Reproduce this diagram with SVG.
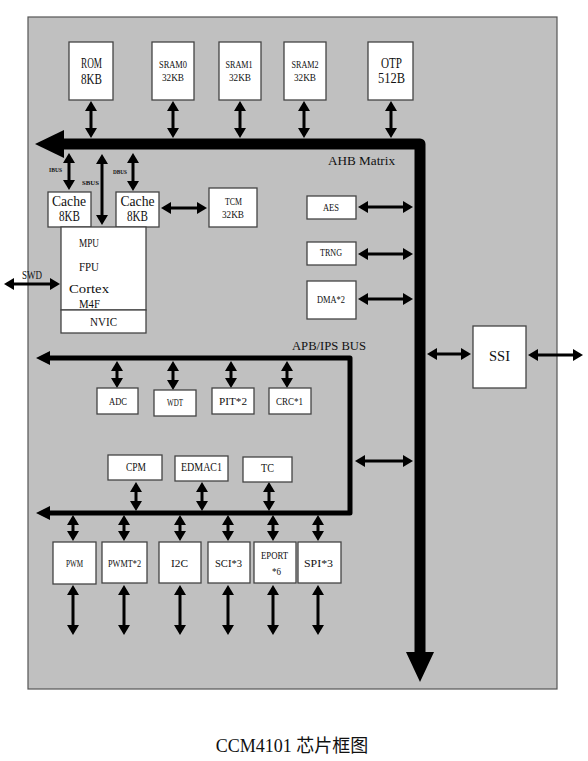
<svg xmlns="http://www.w3.org/2000/svg" width="588" height="761" viewBox="0 0 588 761">
<defs>
<marker id="ah" markerUnits="userSpaceOnUse" markerWidth="10" markerHeight="12" viewBox="0 0 10 12" refX="7" refY="6" orient="auto-start-reverse">
<path d="M0,0 L10,6 L0,12 z" fill="#000"/>
</marker>
</defs>
<style>
.bx{fill:#fff;stroke:#444;stroke-width:1.3}
.t{font-family:"Liberation Serif","DejaVu Serif",serif;fill:#111;dominant-baseline:central}
.m{text-anchor:middle}
.dbl{stroke:#000;stroke-width:3;fill:none;marker-start:url(#ah);marker-end:url(#ah)}
.bus{stroke:#000;fill:none;stroke-linejoin:round}
</style>
<rect x="0" y="0" width="588" height="761" fill="#fff"/>
<rect id="chip" x="28" y="17" width="529" height="672" fill="#c0c0c0" stroke="#555" stroke-width="1.2"/>

<g id="connectors">
<path class="bus" d="M62 144 H420 V654" stroke-width="11"/>
<polygon points="35,144 64,130 64,158" fill="#000"/>
<polygon points="420,682 406,652 434,652" fill="#000"/>
<path class="bus" d="M48 358 H350 V513 H48" stroke-width="5"/>
<polygon points="36,358 50,351 50,365" fill="#000"/>
<polygon points="36,513 50,506 50,520" fill="#000"/>
<path class="dbl" d="M91 104 V135"/>
<path class="dbl" d="M173 104 V135"/>
<path class="dbl" d="M240 104 V135"/>
<path class="dbl" d="M304 104 V135"/>
<path class="dbl" d="M391 104 V135"/>
<path class="dbl" d="M69 156 V187"/>
<path class="dbl" d="M102 157 V222"/>
<path class="dbl" d="M133 156 V188"/>
<path class="dbl" d="M164 208 H204"/>
<path class="dbl" d="M7 284 H57"/>
<path class="dbl" d="M361 207 H410"/>
<path class="dbl" d="M361 254 H410"/>
<path class="dbl" d="M361 299 H410"/>
<path class="dbl" d="M430 354 H468"/>
<path class="dbl" d="M531 355 H580"/>
<path class="dbl" d="M358 461 H410"/>
<path class="dbl" d="M117 364 V385"/>
<path class="dbl" d="M173 364 V387"/>
<path class="dbl" d="M231 364 V385"/>
<path class="dbl" d="M287 364 V385"/>
<path class="dbl" d="M136 485 V508"/>
<path class="dbl" d="M202 485 V508"/>
<path class="dbl" d="M269 485 V508"/>
<path class="dbl" d="M73 518 V538"/>
<path class="dbl" d="M124 518 V538"/>
<path class="dbl" d="M180 518 V538"/>
<path class="dbl" d="M228 518 V538"/>
<path class="dbl" d="M273 518 V538"/>
<path class="dbl" d="M318 518 V538"/>
<path class="dbl" d="M73 588 V632"/>
<path class="dbl" d="M124 588 V632"/>
<path class="dbl" d="M180 588 V632"/>
<path class="dbl" d="M228 588 V632"/>
<path class="dbl" d="M273 588 V632"/>
<path class="dbl" d="M318 588 V632"/>
</g>

<g id="bus-labels">
<text class="t" x="328" y="161" font-size="12" textLength="67" lengthAdjust="spacingAndGlyphs">AHB Matrix</text>
<text class="t" x="292" y="346" font-size="12" textLength="74" lengthAdjust="spacingAndGlyphs">APB/IPS BUS</text>
<text class="t m" x="55.5" y="170" font-size="6" font-weight="bold" textLength="13" lengthAdjust="spacingAndGlyphs">IBUS</text>
<text class="t m" x="90.5" y="183" font-size="6" font-weight="bold" textLength="17" lengthAdjust="spacingAndGlyphs">SBUS</text>
<text class="t m" x="120" y="172" font-size="6" font-weight="bold" textLength="14" lengthAdjust="spacingAndGlyphs">DBUS</text>
<text class="t" x="22" y="275" font-size="12" textLength="20" lengthAdjust="spacingAndGlyphs">SWD</text>
</g>

<g id="rom"><rect class="bx" x="69" y="42" width="44" height="58"/>
<text class="t m" x="91.5" y="63" font-size="14" textLength="21" lengthAdjust="spacingAndGlyphs">ROM</text>
<text class="t m" x="91.5" y="79" font-size="14" textLength="21" lengthAdjust="spacingAndGlyphs">8KB</text></g>
<g id="sram0"><rect class="bx" x="152" y="42" width="42" height="58"/>
<text class="t m" x="173" y="64" font-size="11" textLength="28" lengthAdjust="spacingAndGlyphs">SRAM0</text>
<text class="t m" x="173" y="77" font-size="11" textLength="22" lengthAdjust="spacingAndGlyphs">32KB</text></g>
<g id="sram1"><rect class="bx" x="219" y="42" width="42" height="58"/>
<text class="t m" x="239" y="64" font-size="11" textLength="27" lengthAdjust="spacingAndGlyphs">SRAM1</text>
<text class="t m" x="240" y="77" font-size="11" textLength="22" lengthAdjust="spacingAndGlyphs">32KB</text></g>
<g id="sram2"><rect class="bx" x="284" y="42" width="42" height="58"/>
<text class="t m" x="305" y="64" font-size="11" textLength="27" lengthAdjust="spacingAndGlyphs">SRAM2</text>
<text class="t m" x="305" y="77" font-size="11" textLength="22" lengthAdjust="spacingAndGlyphs">32KB</text></g>
<g id="otp"><rect class="bx" x="368" y="42" width="45" height="58"/>
<text class="t m" x="391.5" y="63" font-size="14" textLength="21" lengthAdjust="spacingAndGlyphs">OTP</text>
<text class="t m" x="391.5" y="78" font-size="14" textLength="27" lengthAdjust="spacingAndGlyphs">512B</text></g>

<g id="cache1"><rect class="bx" x="48" y="192" width="43" height="35"/>
<text class="t m" x="69" y="201" font-size="14" textLength="34" lengthAdjust="spacingAndGlyphs">Cache</text>
<text class="t m" x="69.5" y="216" font-size="14" textLength="21" lengthAdjust="spacingAndGlyphs">8KB</text></g>
<g id="cache2"><rect class="bx" x="116" y="192" width="43" height="35"/>
<text class="t m" x="137.5" y="201" font-size="14" textLength="34" lengthAdjust="spacingAndGlyphs">Cache</text>
<text class="t m" x="137.5" y="216" font-size="14" textLength="21" lengthAdjust="spacingAndGlyphs">8KB</text></g>
<g id="tcm"><rect class="bx" x="209" y="188" width="48" height="39"/>
<text class="t m" x="233.5" y="201" font-size="11" textLength="17" lengthAdjust="spacingAndGlyphs">TCM</text>
<text class="t m" x="233" y="214" font-size="11" textLength="22" lengthAdjust="spacingAndGlyphs">32KB</text></g>

<g id="cpu"><rect class="bx" x="61" y="227" width="85" height="83"/>
<text class="t" x="79" y="242" font-size="13" textLength="20" lengthAdjust="spacingAndGlyphs">MPU</text>
<text class="t" x="79" y="266" font-size="13" textLength="20" lengthAdjust="spacingAndGlyphs">FPU</text>
<text class="t" x="69" y="288" font-size="13" textLength="40" lengthAdjust="spacingAndGlyphs">Cortex</text>
<text class="t" x="79" y="303" font-size="13" textLength="21" lengthAdjust="spacingAndGlyphs">M4F</text></g>
<g id="nvic"><rect class="bx" x="61" y="310" width="85" height="23"/>
<text class="t m" x="103.5" y="321" font-size="13" textLength="27" lengthAdjust="spacingAndGlyphs">NVIC</text></g>

<g id="aes"><rect class="bx" x="307" y="196" width="49" height="23"/>
<text class="t m" x="331" y="207" font-size="10" textLength="16" lengthAdjust="spacingAndGlyphs">AES</text></g>
<g id="trng"><rect class="bx" x="307" y="242" width="49" height="23"/>
<text class="t m" x="331" y="252" font-size="10" textLength="22" lengthAdjust="spacingAndGlyphs">TRNG</text></g>
<g id="dma"><rect class="bx" x="307" y="281" width="49" height="38"/>
<text class="t m" x="331" y="299" font-size="10" textLength="28" lengthAdjust="spacingAndGlyphs">DMA*2</text></g>
<g id="ssi"><rect class="bx" x="473" y="326" width="53" height="62"/>
<text class="t m" x="499.5" y="356" font-size="14" textLength="21" lengthAdjust="spacingAndGlyphs">SSI</text></g>

<g id="adc"><rect class="bx" x="97" y="388" width="41" height="26"/>
<text class="t m" x="118" y="401" font-size="11" textLength="18" lengthAdjust="spacingAndGlyphs">ADC</text></g>
<g id="wdt"><rect class="bx" x="154" y="390" width="42" height="26"/>
<text class="t m" x="175" y="402" font-size="10" textLength="16" lengthAdjust="spacingAndGlyphs">WDT</text></g>
<g id="pit"><rect class="bx" x="212" y="388" width="42" height="26"/>
<text class="t m" x="233" y="401" font-size="11" textLength="28" lengthAdjust="spacingAndGlyphs">PIT*2</text></g>
<g id="crc"><rect class="bx" x="269" y="388" width="42" height="26"/>
<text class="t m" x="289.5" y="401" font-size="11" textLength="27" lengthAdjust="spacingAndGlyphs">CRC*1</text></g>

<g id="cpm"><rect class="bx" x="108" y="455" width="54" height="25"/>
<text class="t m" x="136" y="467" font-size="12" textLength="20" lengthAdjust="spacingAndGlyphs">CPM</text></g>
<g id="edmac1"><rect class="bx" x="175" y="456" width="53" height="25"/>
<text class="t m" x="201.5" y="467" font-size="12" textLength="41" lengthAdjust="spacingAndGlyphs">EDMAC1</text></g>
<g id="tc"><rect class="bx" x="243" y="457" width="49" height="25"/>
<text class="t m" x="267.5" y="468" font-size="12" textLength="13" lengthAdjust="spacingAndGlyphs">TC</text></g>

<g id="pwm"><rect class="bx" x="53" y="542" width="43" height="42"/>
<text class="t m" x="74.5" y="563" font-size="10" textLength="17" lengthAdjust="spacingAndGlyphs">PWM</text></g>
<g id="pwmt"><rect class="bx" x="102" y="542" width="45" height="41"/>
<text class="t m" x="124.5" y="563" font-size="10" textLength="33" lengthAdjust="spacingAndGlyphs">PWMT*2</text></g>
<g id="i2c"><rect class="bx" x="159" y="542" width="42" height="41"/>
<text class="t m" x="179.5" y="563" font-size="10" textLength="17" lengthAdjust="spacingAndGlyphs">I2C</text></g>
<g id="sci"><rect class="bx" x="208" y="542" width="42" height="41"/>
<text class="t m" x="228.5" y="563" font-size="11" textLength="27" lengthAdjust="spacingAndGlyphs">SCI*3</text></g>
<g id="eport"><rect class="bx" x="254" y="542" width="42" height="41"/>
<text class="t m" x="274.5" y="555" font-size="10" textLength="27" lengthAdjust="spacingAndGlyphs">EPORT</text>
<text class="t m" x="276.5" y="571" font-size="10" textLength="9" lengthAdjust="spacingAndGlyphs">*6</text></g>
<g id="spi"><rect class="bx" x="298" y="542" width="43" height="41"/>
<text class="t m" x="318.5" y="563" font-size="11" textLength="29" lengthAdjust="spacingAndGlyphs">SPI*3</text></g>

<text id="caption" x="292" y="752" text-anchor="middle" font-size="18" fill="#111" font-family="'Liberation Serif','Noto Sans CJK SC',serif">CCM4101 芯片框图</text>
</svg>
